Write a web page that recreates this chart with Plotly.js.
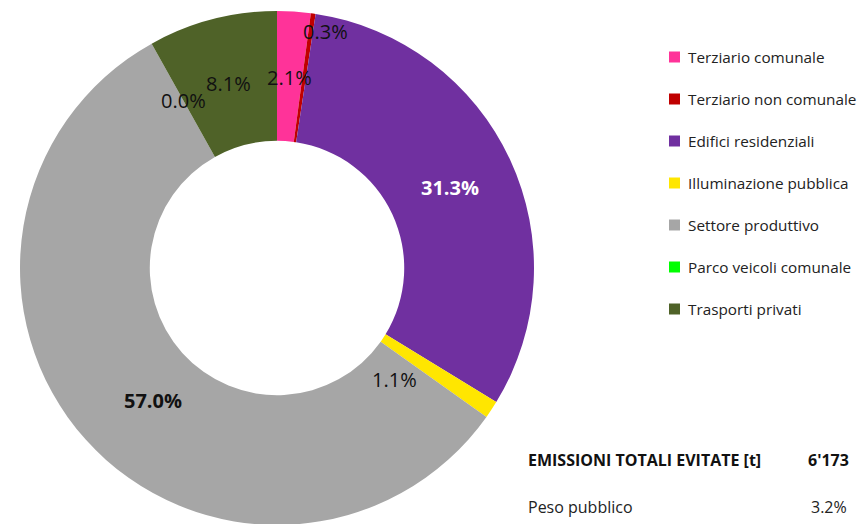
<!DOCTYPE html>
<html><head><meta charset="utf-8">
<script src="https://cdn.plot.ly/plotly-3.0.1.min.js"></script>
<style>html,body{margin:0;padding:0;overflow:hidden;background:#fff;width:858px;height:524px}#chart{width:858px;height:540px}</style>
</head><body><div id="chart"></div>
<script>
// ---- data ----
const categories = ["Terziario comunale","Terziario non comunale","Edifici residenziali","Illuminazione pubblica","Settore produttivo","Parco veicoli comunale","Trasporti privati"];
const shares = [2.1, 0.3, 31.3, 1.1, 57.0, 0.0, 8.1];
const totalLabel = "EMISSIONI TOTALI EVITATE [t]";
const totalValue = "6'173";
const publicLabel = "Peso pubblico";
const publicValue = "3.2%";

// ---- style ----
const colors = ["#ff3399","#c00000","#7030a0","#ffe600","#a6a6a6","#00ff00","#4f6228"];
const labelColors = ["#111","#111","#fff","#111","#111","#111","#111"];
const labelBold = [false,false,true,false,true,false,false];
const labelRadius = [0.743,0.938,0.743,0.63,0.705,0.745,0.743]; // fraction of outer radius
const labelAngleShift = [0,3.6,0,10,-5,0,0]; // degrees

const W = 858, H = 540, mT = 11, mB = 15;
const cx = 277, cy = 268, R = 257;
const plotH = H - mT - mB;
const px2x = px => px / W;
const py2y = py => 1 - (py - mT) / plotH;

const font = "'Open Sans', Lato, sans-serif";
const annotations = [];
const shapes = [];
const total = shares.reduce((a,b)=>a+b,0);
let cum = 0;
shares.forEach((v,i)=>{
  const mid = (cum + v/2) / total * 360 + labelAngleShift[i];
  cum += v;
  const a = mid * Math.PI / 180;
  const r = R * labelRadius[i];
  const x = cx + r * Math.sin(a), y = cy - r * Math.cos(a);
  const t = v.toFixed(1) + "%";
  annotations.push({xref:"paper",yref:"paper",x:px2x(x),y:py2y(y),showarrow:false,
    text: labelBold[i] ? "<b>"+t+"</b>" : t,
    font:{family:font,size:20,color:labelColors[i]},xanchor:"center",yanchor:"middle"});
});

// legend drawn manually
categories.forEach((c,i)=>{
  const y = 57 + i*42;
  shapes.push({type:"rect",xref:"paper",yref:"paper",x0:px2x(669),x1:px2x(680),y0:py2y(y-5.5),y1:py2y(y+5.5),
    fillcolor:colors[i],line:{width:0}});
  annotations.push({xref:"paper",yref:"paper",x:px2x(686),y:py2y(y),showarrow:false,text:c,
    xanchor:"left",yanchor:"middle",font:{family:font,size:15.3,color:"#222"}});
});

annotations.push({xref:"paper",yref:"paper",x:px2x(526),y:py2y(460),showarrow:false,text:"<b>"+totalLabel+"</b>",
  xanchor:"left",yanchor:"middle",font:{family:font,size:16,color:"#111"}});
annotations.push({xref:"paper",yref:"paper",x:px2x(851),y:py2y(460),showarrow:false,text:"<b>"+totalValue+"</b>",
  xanchor:"right",yanchor:"middle",font:{family:font,size:16,color:"#111"}});
annotations.push({xref:"paper",yref:"paper",x:px2x(526),y:py2y(507),showarrow:false,text:publicLabel,
  xanchor:"left",yanchor:"middle",font:{family:font,size:16,color:"#222"}});
annotations.push({xref:"paper",yref:"paper",x:px2x(849),y:py2y(507),showarrow:false,text:publicValue,
  xanchor:"right",yanchor:"middle",font:{family:font,size:16,color:"#222"}});

const trace = {
  type:"pie", labels:categories, values:shares, sort:false, direction:"clockwise", rotation:0,
  hole:0.495, marker:{colors:colors, line:{width:0}}, textinfo:"none", hoverinfo:"label+value",
  showlegend:false,
  domain:{x:[(cx-R)/W,(cx+R)/W], y:[0,1]}
};
Plotly.newPlot("chart",[trace],{
  width:W,height:H,margin:{l:0,r:0,t:mT,b:mB},paper_bgcolor:"#fff",
  annotations:annotations,shapes:shapes,showlegend:false
},{displayModeBar:false,staticPlot:true});
</script></body></html>
